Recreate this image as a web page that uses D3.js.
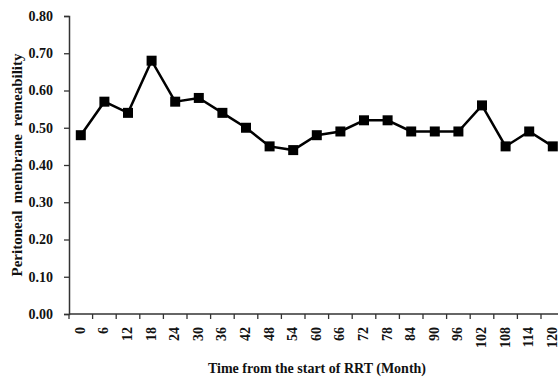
<!DOCTYPE html>
<html>
<head>
<meta charset="utf-8">
<script src="https://cdn.jsdelivr.net/npm/d3@7"></script>
<style>
  html, body { margin: 0; padding: 0; background: #fff; }
  svg { display: block; font-family: "Liberation Serif", "Times New Roman", serif; }
</style>
</head>
<body>
<svg id="chart" width="558" height="378"></svg>
<script>
// Months since start of renal replacement therapy
const months = [0, 6, 12, 18, 24, 30, 36, 42, 48, 54, 60, 66, 72, 78, 84, 90, 96, 102, 108, 114, 120];
// Peritoneal membrane permeability at each time point
const permeability = [0.48, 0.57, 0.54, 0.68, 0.57, 0.58, 0.54, 0.50, 0.45, 0.44, 0.48, 0.49, 0.52, 0.52, 0.49, 0.49, 0.49, 0.56, 0.45, 0.49, 0.45];
const yTicks = [0, 0.1, 0.2, 0.3, 0.4, 0.5, 0.6, 0.7, 0.8];

const svg = d3.select("#chart");
const plotLeft = 69, plotTop = 16, plotBottom = 314, bandW = 23.6;

const x = d3.scaleBand()
  .domain(months.map(String))
  .range([plotLeft, plotLeft + months.length * bandW])
  .padding(0);

const y = d3.scaleLinear().domain([0, 0.8]).range([plotBottom, plotTop]);

// Y axis
const yAxis = svg.append("g")
  .attr("transform", `translate(${plotLeft},0)`)
  .call(d3.axisLeft(y).tickValues(yTicks).tickFormat(d3.format(".2f")).tickSize(5).tickPadding(11));
yAxis.select(".domain").attr("stroke", "#333").attr("stroke-width", 1.5);
yAxis.selectAll(".tick line").attr("stroke", "#333").attr("stroke-width", 1.3);
yAxis.selectAll("text")
  .attr("font-family", "Liberation Serif, serif")
  .attr("font-weight", "bold").attr("font-size", 14).attr("fill", "#111");

// X axis with ticks at band boundaries
const xAxis = svg.append("g").attr("transform", `translate(0,${plotBottom})`);
xAxis.append("line")
  .attr("x1", plotLeft).attr("x2", 558)
  .attr("stroke", "#333").attr("stroke-width", 1.5);
xAxis.selectAll("line.tk")
  .data(months)
  .join("line")
  .attr("class", "tk")
  .attr("x1", d => x(String(d))).attr("x2", d => x(String(d)))
  .attr("y1", 0).attr("y2", 5)
  .attr("stroke", "#333").attr("stroke-width", 1.3);
xAxis.selectAll("text")
  .data(months)
  .join("text")
  .attr("transform", d => `translate(${x(String(d)) + x.bandwidth() / 2 + 4},13) rotate(-90)`)
  .attr("text-anchor", "end")
  .attr("font-weight", "bold").attr("font-size", 14).attr("fill", "#111")
  .text(d => d);

// Data line
const line = d3.line()
  .x((d, i) => x(String(months[i])) + x.bandwidth() / 2)
  .y(d => y(d));
svg.append("path")
  .datum(permeability)
  .attr("d", line)
  .attr("fill", "none")
  .attr("stroke", "#000")
  .attr("stroke-width", 2.5);

// Square markers
const ms = 10;
svg.selectAll("rect.pt")
  .data(permeability)
  .join("rect")
  .attr("class", "pt")
  .attr("x", (d, i) => x(String(months[i])) + x.bandwidth() / 2 - ms / 2)
  .attr("y", d => y(d) - ms / 2)
  .attr("width", ms).attr("height", ms)
  .attr("fill", "#000");

// Axis titles
svg.append("text")
  .attr("x", 317).attr("y", 373)
  .attr("text-anchor", "middle")
  .attr("font-weight", "bold").attr("font-size", 14).attr("fill", "#111")
  .text("Time from the start of RRT (Month)");

svg.append("text")
  .attr("transform", "translate(22,165) rotate(-90)")
  .attr("text-anchor", "middle")
  .attr("font-weight", "bold").attr("font-size", 15).attr("fill", "#111")
  .style("white-space", "pre")
  .text("Peritoneal  membrane  remeability");
</script>
</body>
</html>
